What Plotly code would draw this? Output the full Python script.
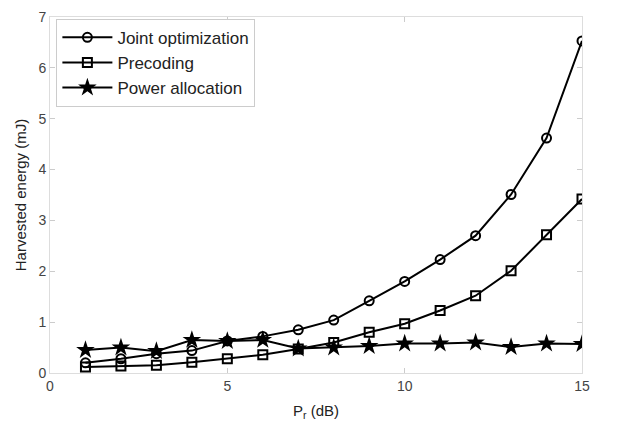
import plotly.graph_objects as go

pr_db = list(range(1, 16))
joint_opt = [0.20, 0.28, 0.38, 0.44, 0.63, 0.72, 0.85, 1.04, 1.42, 1.80, 2.23, 2.70, 3.51, 4.62, 6.53]
precoding = [0.12, 0.14, 0.15, 0.21, 0.28, 0.36, 0.47, 0.60, 0.80, 0.97, 1.23, 1.52, 2.01, 2.72, 3.42]
power_alloc = [0.45, 0.50, 0.43, 0.65, 0.63, 0.65, 0.48, 0.50, 0.53, 0.58, 0.58, 0.60, 0.51, 0.58, 0.57]

x_ticks = [0, 5, 10, 15]
y_ticks = [0, 1, 2, 3, 4, 5, 6, 7]

FONT = "Liberation Sans, Arial, sans-serif"

fig = go.Figure()
fig.add_trace(go.Scatter(x=pr_db, y=joint_opt, mode="lines+markers", name="Joint optimization",
                         line=dict(color="black", width=2),
                         marker=dict(symbol="circle-open", size=9, color="black", line=dict(width=2))))
fig.add_trace(go.Scatter(x=pr_db, y=precoding, mode="lines+markers", name="Precoding",
                         line=dict(color="black", width=2),
                         marker=dict(symbol="square-open", size=9, color="black", line=dict(width=2))))
fig.add_trace(go.Scatter(x=pr_db, y=power_alloc, mode="lines+markers", name="Power allocation",
                         line=dict(color="black", width=2),
                         marker=dict(symbol="star", size=14, color="black", line=dict(width=0))))

axis_common = dict(showgrid=False, zeroline=False, showline=True, linecolor="#dddddd", linewidth=1,
                   mirror="ticks", ticks="inside", ticklen=5, tickcolor="#cccccc",
                   automargin=False, ticklabeloverflow="allow",
                   tickfont=dict(family=FONT, size=14, color="#444444"))

fig.update_layout(
    width=624, height=425,
    margin=dict(l=42, r=50, t=9, b=60),
    paper_bgcolor="white", plot_bgcolor="white",
    showlegend=True,
    legend=dict(x=0.012, y=0.995, xanchor="left", yanchor="top",
                bordercolor="#cccccc", borderwidth=1, bgcolor="white",
                font=dict(family=FONT, size=17, color="#222222"),
                tracegroupgap=0, itemwidth=50),
    xaxis=dict(range=[0, 15], tickvals=x_ticks,
               title=dict(text="P<sub>r</sub> (dB)", standoff=12,
                          font=dict(family=FONT, size=15, color="#222222")),
               **axis_common),
    yaxis=dict(range=[0, 7], tickvals=y_ticks,
               title=dict(text="Harvested energy (mJ)", standoff=8,
                          font=dict(family=FONT, size=15, color="#222222")),
               **axis_common),
)

fig.write_html("out.html")
